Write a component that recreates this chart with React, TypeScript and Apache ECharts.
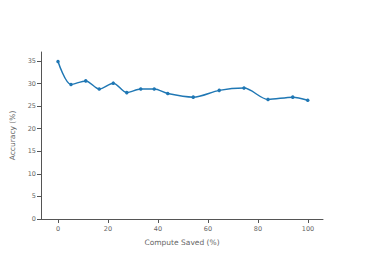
import React, { useEffect, useRef } from "react";
import * as echarts from "echarts";

const computeSaved = [0, 5.2, 11.1, 16.5, 22.1, 27.5, 33.1, 38.5, 43.9, 54.1, 64.5, 74.4, 84.0, 93.9, 99.9];
const accuracy = [34.9, 29.8, 30.6, 28.8, 30.1, 28.0, 28.8, 28.8, 27.8, 27.0, 28.5, 29.0, 26.5, 27.0, 26.3];
const xTicks = [0, 20, 40, 60, 80, 100];

export default function App() {
  const ref = useRef<HTMLDivElement>(null);
  useEffect(() => {
    const chart = echarts.init(ref.current!, null, { renderer: "svg" });
    const font = "DejaVu Sans";
    const textColor = "#666";
    chart.setOption({
      animation: false,
      grid: { left: 41, right: 43, top: 52, bottom: 42 },
      xAxis: {
        type: "value",
        min: -6.8,
        max: 106,
        name: "Compute Saved (%)",
        nameLocation: "middle",
        nameGap: 19,
        nameTextStyle: { fontFamily: font, fontSize: 7.5, color: textColor },
        splitLine: { show: false },
        axisLine: { onZero: false, lineStyle: { color: "#555", width: 1 } },
        axisTick: { show: true, length: 4, customValues: xTicks, lineStyle: { color: "#555" } },
        axisLabel: { customValues: xTicks, fontFamily: font, fontSize: 6.5, color: textColor, margin: 6 },
      },
      yAxis: {
        type: "value",
        min: 0,
        max: 37,
        interval: 5,
        name: "Accuracy (%)",
        nameLocation: "middle",
        nameGap: 20,
        nameTextStyle: { fontFamily: font, fontSize: 7.5, color: textColor },
        splitLine: { show: false },
        axisLine: { show: true, onZero: false, lineStyle: { color: "#555", width: 1 } },
        axisTick: { show: true, length: 4, lineStyle: { color: "#555" } },
        axisLabel: { fontFamily: font, fontSize: 6.5, color: textColor, margin: 5, showMaxLabel: false },
      },
      series: [
        {
          type: "line",
          data: computeSaved.map((x, i) => [x, accuracy[i]]),
          smooth: 0.3,
          symbol: "circle",
          symbolSize: 3.5,
          lineStyle: { color: "#1f77b4", width: 1.5 },
          itemStyle: { color: "#1f77b4" },
        },
      ],
    });
    return () => chart.dispose();
  }, []);
  return <div ref={ref} style={{ width: 366, height: 261, margin: -8 }} />;
}
